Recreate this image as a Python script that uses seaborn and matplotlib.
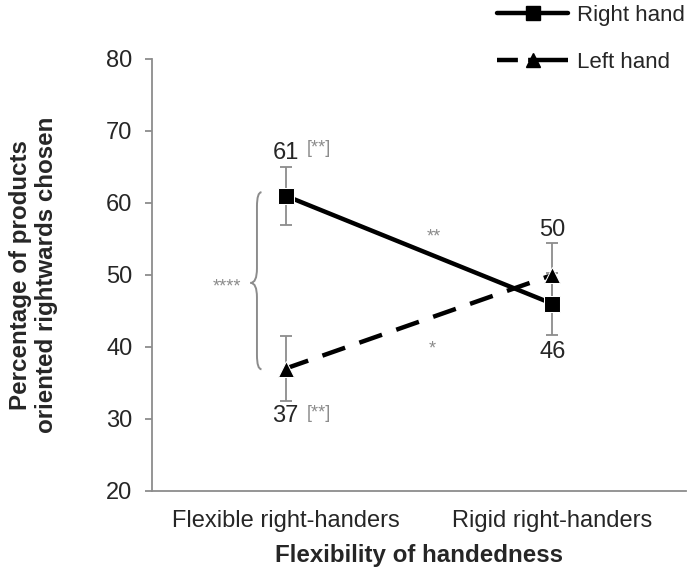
import matplotlib
matplotlib.use("Agg")
import matplotlib.pyplot as plt
from matplotlib.lines import Line2D
from matplotlib.path import Path
from matplotlib.patches import PathPatch
import seaborn as sns
import pandas as pd

categories = ["Flexible right-handers", "Rigid right-handers"]
series = ["Right hand", "Left hand"]
right_vals = [61, 46]
left_vals = [37, 50]
right_err = [4.0, 4.3]
left_err = [4.5, 4.5]
right_labels = ["61", "46"]
left_labels = ["37", "50"]
yticks = [20, 30, 40, 50, 60, 70, 80]

sns.set_theme(style="white")
plt.rcParams['font.family'] = ['Liberation Sans', 'DejaVu Sans']

df = pd.DataFrame({
    "x": [0, 1, 0, 1],
    "value": right_vals + left_vals,
    "hand": [series[0]] * 2 + [series[1]] * 2,
})

fig = plt.figure(figsize=(6.88, 5.68), dpi=100)
ax = fig.add_axes([0.221, 0.1356, 0.776, 0.7606])

gray = "#8c8c8c"
FS = 17
# error bars
ax.errorbar([0, 1], right_vals, yerr=right_err, fmt="none", ecolor=gray,
            elinewidth=1.3, capsize=4, capthick=1.3, zorder=1)
ax.errorbar([0, 1], left_vals, yerr=left_err, fmt="none", ecolor=gray,
            elinewidth=1.3, capsize=4, capthick=1.3, zorder=1)

sns.lineplot(data=df, x="x", y="value", hue="hand", style="hand",
             palette={series[0]: "black", series[1]: "black"},
             dashes={series[0]: "", series[1]: (5.4, 3.4)},
             markers={series[0]: "s", series[1]: "^"},
             markersize=11, linewidth=3.2, legend=False, ax=ax, zorder=3)

ax.set_xlim(-0.5, 1.5)
ax.set_ylim(20, 80)
ax.set_yticks(yticks)
ax.set_yticklabels([str(t) for t in yticks], fontsize=FS)
ax.set_xticks([0, 1])
ax.set_xticklabels(categories, fontsize=FS)
ax.set_xticks([0.5, 1.5], minor=True)
ax.tick_params(axis="x", which="major", length=0, pad=13.5)
ax.tick_params(axis="x", which="minor", length=5, color=gray, width=1.3)
ax.tick_params(axis="y", length=5, color=gray, width=1.3, pad=9, left=True)
for s in ["top", "right"]:
    ax.spines[s].set_visible(False)
for s in ["left", "bottom"]:
    ax.spines[s].set_color(gray)
    ax.spines[s].set_linewidth(1.3)

ax.set_xlabel("Flexibility of handedness", fontsize=17.4, fontweight="bold")
ax.xaxis.set_label_coords(0.5, -0.123)
ax.set_ylabel("Percentage of products\noriented rightwards chosen", fontsize=17.4,
              fontweight="bold", linespacing=1.12)
ax.yaxis.set_label_coords(-0.177, 0.5)

# value labels
ax.text(0, right_vals[0] + 6.0, right_labels[0], ha="center", va="center", fontsize=FS)
ax.text(0.125, 67.6, "[**]", ha="center", va="center", fontsize=13, color=gray)
ax.text(0, left_vals[0] - 6.6, left_labels[0], ha="center", va="center", fontsize=FS)
ax.text(0.125, 30.8, "[**]", ha="center", va="center", fontsize=13, color=gray)
ax.text(1, left_vals[1] + 6.3, left_labels[1], ha="center", va="center", fontsize=FS)
ax.text(1, right_vals[1] - 6.7, right_labels[1], ha="center", va="center", fontsize=FS)
ax.text(0.554, 55.3, "**", ha="center", va="center", fontsize=13, color=gray)
ax.text(0.55, 39.7, "*", ha="center", va="center", fontsize=13, color=gray)
ax.text(-0.221, 48.3, "****", ha="center", va="center", fontsize=13, color=gray)

# curly brace
xr, xl, xt = -0.09, -0.107, -0.131
y0, y1, ym = 61.5, 36.9, 48.9
verts = [(xr, y0), (xl, y0), (xl, y0 - 2.0),
         (xl, ym + 2.0),
         (xl, ym), (xt, ym),
         (xl, ym), (xl, ym - 2.0),
         (xl, y1 + 2.0),
         (xl, y1), (xr, y1)]
codes = [Path.MOVETO, Path.CURVE3, Path.CURVE3,
         Path.LINETO,
         Path.CURVE3, Path.CURVE3,
         Path.CURVE3, Path.CURVE3,
         Path.LINETO,
         Path.CURVE3, Path.CURVE3]
ax.add_patch(PathPatch(Path(verts, codes), fill=False, edgecolor=gray, lw=1.4,
                       clip_on=False))

handles = [
    Line2D([], [], color="black", lw=3.2, marker="s", markersize=10),
    Line2D([], [], color="black", lw=3.2, ls=(0, (4.7, 2.3, 9, 1)), marker="^",
           markersize=10),
]
fig.legend(handles, series, loc="upper left", bbox_to_anchor=(497 / 688, 1 - 5 / 568),
           frameon=False, fontsize=16, handlelength=3.2, labelspacing=1.18,
           handletextpad=0.4, borderpad=0, borderaxespad=0)

fig.savefig("out.png", dpi=100)
